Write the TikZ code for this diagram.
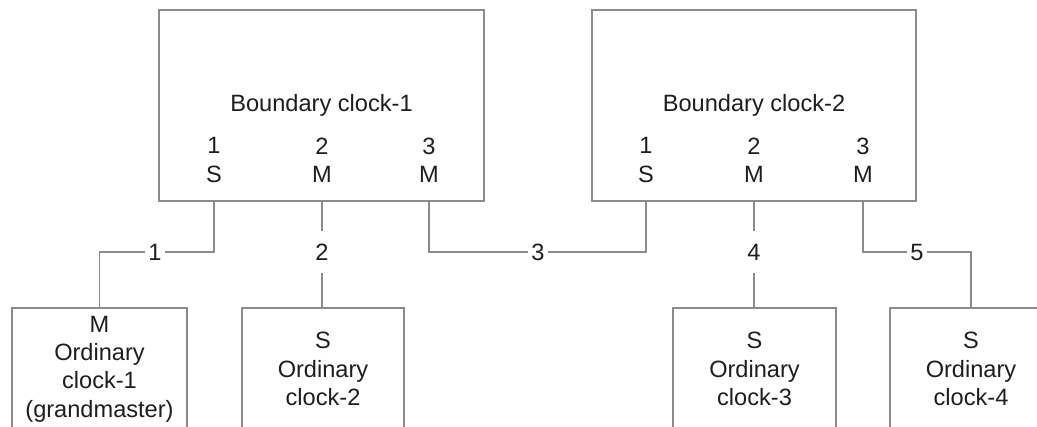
\documentclass[tikz,border=0pt]{standalone}
\usepackage{fontspec}
\setmainfont{Liberation Sans}
\definecolor{linegray}{RGB}{140,140,140}
\definecolor{textgray}{RGB}{30,30,30}
\begin{document}
\begin{tikzpicture}[x=0.5pt,y=-0.5pt,
  every node/.style={font=\fontsize{11.8}{14.2}\selectfont, text=textgray},
  bigbox/.style={draw=linegray, line width=0.8pt, fill=white, minimum height=95.5pt, inner sep=0pt},
  smallbox/.style={draw=linegray, line width=0.8pt, fill=white, minimum height=61pt, minimum width=81pt, inner sep=0pt, align=center},
  port/.style={align=center, inner sep=0pt},
  linklabel/.style={fill=white, inner sep=1.5pt},
  wire/.style={draw=linegray, line width=0.8pt}
]
\useasboundingbox (0,0) rectangle (1037,427);
\clip (0,0) rectangle (1037,427);
\fill[white] (0,0) rectangle (1037,427);

% boundary clocks
\node[bigbox, minimum width=162.5pt] (bc1) at (321.5,105.5) {Boundary clock-1};
\node[bigbox, minimum width=162pt] (bc2) at (754,105.5) {Boundary clock-2};

% ports
\node[port] (p11) at (214,160) {1\\S};
\node[port] (p12) at (322,160) {2\\M};
\node[port] (p13) at (429,160) {3\\M};
\node[port] (p21) at (646,160) {1\\S};
\node[port] (p22) at (754,160) {2\\M};
\node[port] (p23) at (863,160) {3\\M};

% ordinary clocks
\node[smallbox, minimum width=87.5pt] (oc1) at (99.5,369) {M\\Ordinary\\clock-1\\(grandmaster)};
\node[smallbox] (oc2) at (323,369) {S\\Ordinary\\clock-2};
\node[smallbox, minimum width=81.5pt] (oc3) at (754.5,369) {S\\Ordinary\\clock-3};
\node[smallbox] (oc4) at (971,369) {S\\Ordinary\\clock-4};

% link labels
\node[linklabel] (l1) at (155,252) {1};
\node[linklabel, inner ysep=6pt] (l2) at (322,252) {2};
\node[linklabel] (l3) at (538,252) {3};
\node[linklabel, inner ysep=6pt] (l4) at (754,252) {4};
\node[linklabel] (l5) at (917,252) {5};

% connectors
\draw[wire] (p11 |- bc1.south) |- (l1) -| (oc1.north);
\draw[wire] (p12 |- bc1.south) -- (l2);
\draw[wire] (l2) -- (p12 |- oc2.north);
\draw[wire] (p13 |- bc1.south) |- (l3) -| (p21 |- bc2.south);
\draw[wire] (p22 |- bc2.south) -- (l4);
\draw[wire] (l4) -- (p22 |- oc3.north);
\draw[wire] (p23 |- bc2.south) |- (l5) -| (oc4.north);
\end{tikzpicture}
\end{document}
